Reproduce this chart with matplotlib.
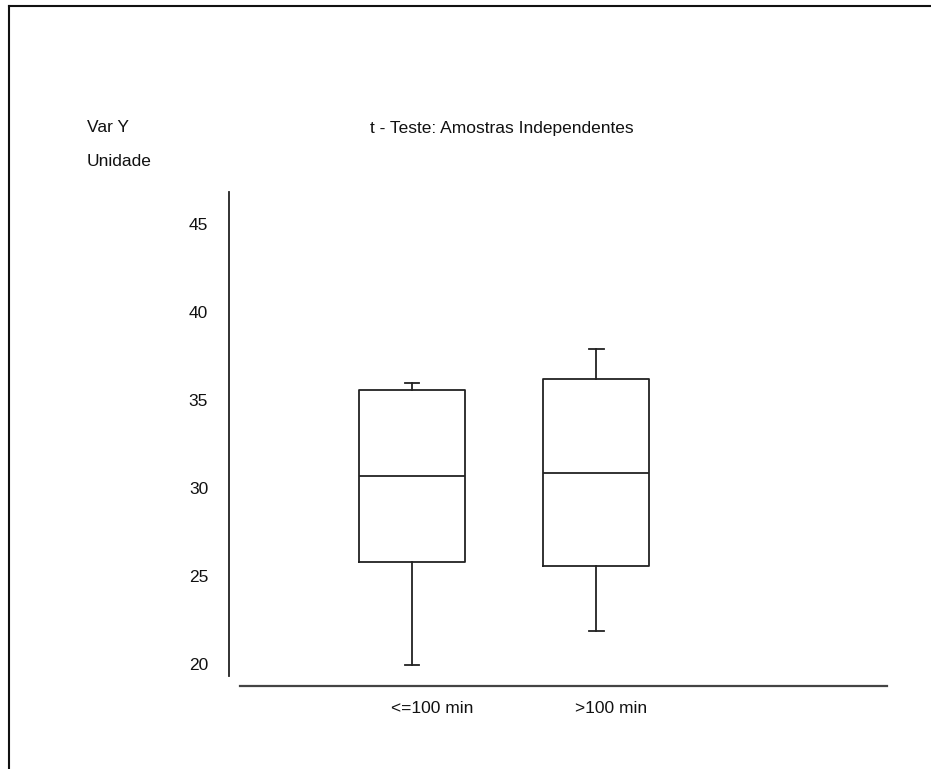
import matplotlib
matplotlib.use("Agg")
import matplotlib.pyplot as plt
import matplotlib.transforms as mtransforms
from matplotlib.lines import Line2D

plt.rcParams['font.family'] = ['Liberation Sans', 'DejaVu Sans']

groups = ['<=100 min', '>100 min']
q1 = [25.8, 25.55]
med = [30.68, 30.87]
q3 = [35.55, 36.2]
whislo = [19.95, 21.9]
whishi = [35.95, 37.9]
yticks = [20, 25, 30, 35, 40, 45]

W, H = 931, 769
FS = 12.5
fig = plt.figure(figsize=(W / 100, H / 100), dpi=100)
fig.patch.set_facecolor('white')

# axes box in pixels: x 229..887, y 192..686
ax = fig.add_axes([229 / W, 1 - 686 / H, (887 - 229) / W, (686 - 192) / H])

stats = []
for i in range(len(groups)):
    stats.append(dict(label=groups[i], q1=q1[i], med=med[i], q3=q3[i],
                      whislo=whislo[i], whishi=whishi[i], fliers=[]))

ax.bxp(stats, positions=[1, 2], widths=0.575, capwidths=0.08,
       showfliers=False,
       boxprops=dict(color='#222222', linewidth=1.3),
       medianprops=dict(color='#222222', linewidth=1.3),
       whiskerprops=dict(color='#222222', linewidth=1.3),
       capprops=dict(color='#222222', linewidth=1.3))

ax.set_xlim(0.008, 3.575)
ax.set_ylim(18.75, 46.82)

for s in ['top', 'right']:
    ax.spines[s].set_visible(False)
ax.spines['left'].set_bounds(19.32, 46.82)
ax.spines['bottom'].set_bounds(0.068, 3.575)
ax.spines['left'].set_color('#222222')
ax.spines['bottom'].set_color('#444444')
ax.spines['left'].set_linewidth(1.3)
ax.spines['bottom'].set_linewidth(1.6)

ax.set_yticks(yticks)
ax.set_yticklabels([str(v) for v in yticks])
ax.tick_params(axis='y', length=0, pad=15, labelsize=FS, labelcolor='#111111')
ax.set_xticks([1, 2])
ax.set_xticklabels(groups)
ax.tick_params(axis='x', length=0, pad=11, labelsize=FS, labelcolor='#111111')
shift = mtransforms.ScaledTranslation(-21 / 100, 0, fig.dpi_scale_trans)
for lab in ax.get_xticklabels():
    lab.set_horizontalalignment('left')
    lab.set_transform(lab.get_transform() + shift)

fig.text(502 / W, 1 - 128 / H, 't - Teste: Amostras Independentes',
         ha='center', va='center', fontsize=FS, color='#111111')
fig.text(87 / W, 1 - 128 / H, 'Var Y', ha='left', va='center',
         fontsize=FS, color='#111111')
fig.text(87 / W, 1 - 162 / H, 'Unidade', ha='left', va='center',
         fontsize=FS, color='#111111')

# window frame (top and left edges)
fig.add_artist(Line2D([8.5 / W, 8.5 / W], [0, 1 - 5.5 / H],
                      transform=fig.transFigure, color='#111111', linewidth=1.5))
fig.add_artist(Line2D([8.5 / W, 1], [1 - 5.5 / H, 1 - 5.5 / H],
                      transform=fig.transFigure, color='#111111', linewidth=1.5))

fig.savefig('out.png', dpi=100)
